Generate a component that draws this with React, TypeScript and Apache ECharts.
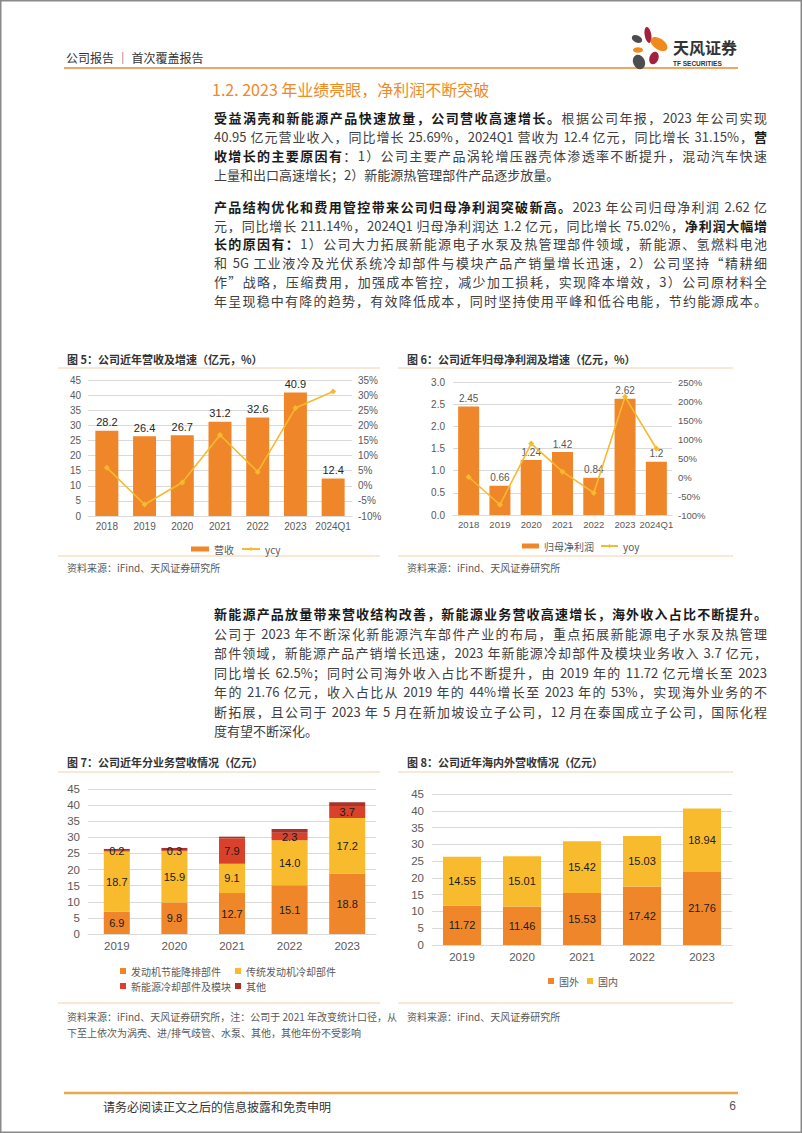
import React, { useEffect, useRef } from 'react';
import * as echarts from 'echarts';

// ---------- data ----------
const revYears = ['2018', '2019', '2020', '2021', '2022', '2023', '2024Q1'];
const revenue = [28.2, 26.4, 26.7, 31.2, 32.6, 40.9, 12.4];
const revenueYoy = [6.0, -6.2, 1.1, 16.8, 4.6, 25.7, 31.2];
const netProfit = [2.45, 0.66, 1.24, 1.42, 0.84, 2.62, 1.2];
const profitYoy = [0, -73, 88, 14, -42, 211, 75];

const segYears = ['2019', '2020', '2021', '2022', '2023'];
const engineParts = [6.9, 9.8, 12.7, 15.1, 18.8];
const coolingParts = [18.7, 15.9, 9.1, 14.0, 17.2];
const newEnergyParts = [0.2, 0.3, 7.9, 2.3, 3.7];
const otherParts = [0.6, 0.7, 0.5, 1.2, 1.2];

const overseas = [11.72, 11.46, 15.53, 17.42, 21.76];
const domestic = [14.55, 15.01, 15.42, 15.03, 18.94];

const revAxis = { min: 0, max: 45, interval: 5 };
const revYoyAxis = { min: -10, max: 35, interval: 5 };
const profitAxis = { min: 0, max: 3, interval: 0.5 };
const profitYoyAxis = { min: -100, max: 250, interval: 50 };

// ---------- style ----------
const ORANGE = '#F0862A';
const YELLOW = '#F8BB2E';
const LINEY = '#F5BA30';
const RED = '#D9412A';
const DARKRED = '#A9322A';
const GRID = '#D9D9D9';
const LABEL = '#595959';
const FONT = "'Liberation Sans', 'Noto Sans CJK SC', sans-serif";
const CJK = "'Noto Sans CJK SC', 'Liberation Sans', sans-serif";

type Seg = [string, boolean?];
const para1: Seg[][] = [
  [['受益涡壳和新能源产品快速放量，公司营收高速增长。', true], ['根据公司年报，2023 年公司实现']],
  [['40.95 亿元营业收入，同比增长 25.69%，2024Q1 营收为 12.4 亿元，同比增长 31.15%，'], ['营', true]],
  [['收增长的主要原因有', true], ['：1）公司主要产品涡轮增压器壳体渗透率不断提升，混动汽车快速']],
  [['上量和出口高速增长；2）新能源热管理部件产品逐步放量。']],
];
const para2: Seg[][] = [
  [['产品结构优化和费用管控带来公司归母净利润突破新高。', true], ['2023 年公司归母净利润 2.62 亿']],
  [['元，同比增长 211.14%，2024Q1 归母净利润达 1.2 亿元，同比增长 75.02%，'], ['净利润大幅增', true]],
  [['长的原因有：', true], ['1）公司大力拓展新能源电子水泵及热管理部件领域，新能源、氢燃料电池']],
  [['和 5G 工业液冷及光伏系统冷却部件与模块产品产销量增长迅速，2）公司坚持“精耕细']],
  [['作”战略，压缩费用，加强成本管控，减少加工损耗，实现降本增效，3）公司原材料全']],
  [['年呈现稳中有降的趋势，有效降低成本，同时坚持使用平峰和低谷电能，节约能源成本。']],
];
const para3: Seg[][] = [
  [['新能源产品放量带来营收结构改善，新能源业务营收高速增长，海外收入占比不断提升。', true]],
  [['公司于 2023 年不断深化新能源汽车部件产业的布局，重点拓展新能源电子水泵及热管理']],
  [['部件领域，新能源产品产销增长迅速，2023 年新能源冷却部件及模块业务收入 3.7 亿元，']],
  [['同比增长 62.5%；同时公司海外收入占比不断提升，由 2019 年的 11.72 亿元增长至 2023']],
  [['年的 21.76 亿元，收入占比从 2019 年的 44%增长至 2023 年的 53%，实现海外业务的不']],
  [['断拓展，且公司于 2023 年 5 月在新加坡设立子公司，12 月在泰国成立子公司，国际化程']],
  [['度有望不断深化。']],
];

const TextLine: React.FC<{ segs: Seg[]; y: number; justify: boolean }> = ({ segs, y, justify }) => (
  <div
    style={{
      position: 'absolute',
      left: 214,
      top: y - 10,
      width: 553,
      height: 20,
      lineHeight: '20px',
      fontSize: 13,
      whiteSpace: 'nowrap',
      textAlign: justify ? 'justify' : 'left',
      textAlignLast: justify ? 'justify' : 'left',
      fontFamily: CJK,
      color: '#404040',
    } as React.CSSProperties}
  >
    {segs.map((s, i) => (
      <span key={i} style={{ fontWeight: s[1] ? 700 : 400, color: s[1] ? '#1a1a1a' : '#404040' }}>
        {s[0]}
      </span>
    ))}
  </div>
);

function txt(text: string, x: number, y: number, size: number, color: string, weight: any = 'normal', align = 'left', family = CJK) {
  return {
    type: 'text',
    x,
    y,
    silent: true,
    style: {
      text,
      fill: color,
      fontSize: size,
      fontWeight: weight,
      fontFamily: family,
      textAlign: align,
      align,
      textVerticalAlign: 'middle',
      verticalAlign: 'middle',
    },
  };
}
function ln(x1: number, y1: number, x2: number, y2: number, color: string, w: number) {
  return { type: 'line', silent: true, shape: { x1, y1, x2, y2 }, style: { stroke: color, lineWidth: w } };
}
function petal(cx: number, cy: number, rx: number, ry: number, rotDeg: number, fill: string) {
  return { type: 'ellipse', x: cx, y: cy, rotation: (rotDeg * Math.PI) / 180, shape: { cx: 0, cy: 0, rx, ry }, style: { fill } };
}

const axisCat = (gridIndex: number, data: string[], size: number, margin: number, extra: any = {}) => ({
  type: 'category',
  gridIndex,
  data,
  axisTick: { show: false },
  axisLine: { lineStyle: { color: GRID } },
  axisLabel: { color: LABEL, fontSize: size, margin, interval: 0, fontFamily: FONT },
  ...extra,
});
const axisVal = (gridIndex: number, r: any, size: number, fmt: any, split: boolean, margin = 8) => ({
  type: 'value',
  gridIndex,
  min: r.min,
  max: r.max,
  interval: r.interval,
  axisLine: { show: false },
  axisTick: { show: false },
  axisLabel: { color: LABEL, fontSize: size, formatter: fmt, margin, fontFamily: FONT },
  splitLine: { show: split, lineStyle: { color: GRID } },
});

const narrow = (arr: number[]) => arr.map((v, i) => (i < 3 ? v : '-'));
const wide = (arr: number[]) => arr.map((v, i) => (i >= 3 ? v : '-'));

export default function App() {
  const ref = useRef<HTMLDivElement>(null);
  useEffect(() => {
    if (!ref.current) return;
    const chart = echarts.init(ref.current, undefined, { renderer: 'svg', width: 802, height: 1133 });

    const segDefs: [string, number[], string, boolean][] = [
      ['发动机节能降排部件', engineParts, ORANGE, true],
      ['传统发动机冷却部件', coolingParts, YELLOW, true],
      ['新能源冷却部件及模块', newEnergyParts, RED, true],
      ['其他', otherParts, DARKRED, false],
    ];
    const segLabel = (show: boolean) => ({
      show,
      position: 'inside',
      color: '#1a1a1a',
      fontSize: 11,
      fontFamily: FONT,
      formatter: (p: any) => Number(p.value).toFixed(1),
    });
    const segSeries: any[] = [];
    segDefs.forEach(([name, arr, color, show]) => {
      segSeries.push({
        type: 'bar', name, xAxisIndex: 2, yAxisIndex: 4, stack: 'segA', barWidth: 26,
        data: narrow(arr), itemStyle: { color }, label: segLabel(show),
      });
    });
    segDefs.forEach(([name, arr, color, show]) => {
      segSeries.push({
        type: 'bar', name, xAxisIndex: 3, yAxisIndex: 4, stack: 'segB', barWidth: 36,
        data: wide(arr), itemStyle: { color }, label: segLabel(show),
      });
    });

    const legendText = { color: LABEL, fontSize: 10, fontFamily: CJK };

    const option: any = {
      animation: false,
      textStyle: { fontFamily: FONT },
      grid: [
        { left: 88, top: 380, width: 264, height: 136 },
        { left: 453, top: 382, width: 219, height: 133 },
        { left: 88, top: 789, width: 288, height: 145 },
        { left: 432, top: 794, width: 300, height: 151 },
      ],
      xAxis: [
        axisCat(0, revYears, 10, 5),
        axisCat(1, revYears, 9.5, 5),
        axisCat(2, segYears, 11.5, 6),
        axisCat(2, segYears, 11.5, 6, { show: false }),
        axisCat(3, segYears, 11.5, 6),
      ],
      yAxis: [
        axisVal(0, revAxis, 10, '{value}', true, 7),
        axisVal(0, revYoyAxis, 10, '{value}%', false, 6),
        axisVal(1, profitAxis, 10, (v: number) => v.toFixed(1), true, 8),
        axisVal(1, profitYoyAxis, 9.5, '{value}%', false, 6),
        axisVal(2, revAxis, 11.5, '{value}', true, 8),
        axisVal(3, revAxis, 11.5, '{value}', true, 8),
      ],
      legend: [
        {
          data: [{ name: '营收', icon: 'rect' }, { name: 'ycy' }],
          left: 186, top: 539, itemWidth: 18, itemHeight: 5, itemGap: 7, textStyle: legendText,
        },
        {
          data: [{ name: '归母净利润', icon: 'rect' }, { name: 'yoy' }],
          left: 517, top: 536, itemWidth: 17, itemHeight: 5, itemGap: 6, textStyle: legendText,
        },
        {
          data: ['发动机节能降排部件', '新能源冷却部件及模块'], orient: 'vertical',
          left: 115, top: 961, itemWidth: 6, itemHeight: 6, itemGap: 5, icon: 'rect', textStyle: legendText,
        },
        {
          data: ['传统发动机冷却部件', '其他'], orient: 'vertical',
          left: 230, top: 961, itemWidth: 6, itemHeight: 6, itemGap: 5, icon: 'rect', textStyle: legendText,
        },
        {
          data: ['国外', '国内'], left: 543, top: 971, itemWidth: 6, itemHeight: 6, itemGap: 8, icon: 'rect', textStyle: legendText,
        },
      ],
      series: [
        {
          type: 'bar', name: '营收', xAxisIndex: 0, yAxisIndex: 0, data: revenue, barWidth: 23,
          itemStyle: { color: ORANGE },
          label: { show: true, position: 'top', distance: 3, color: '#262626', fontSize: 11, fontFamily: FONT },
        },
        {
          type: 'line', name: 'ycy', xAxisIndex: 0, yAxisIndex: 1, data: revenueYoy, z: 5,
          symbol: 'diamond', symbolSize: 6, color: LINEY,
          lineStyle: { color: LINEY, width: 1.6 }, itemStyle: { color: LINEY },
        },
        {
          type: 'bar', name: '归母净利润', xAxisIndex: 1, yAxisIndex: 2, data: netProfit, barWidth: 21,
          itemStyle: { color: ORANGE },
          label: { show: true, position: 'top', distance: 3, color: '#595959', fontSize: 10, fontFamily: FONT },
        },
        {
          type: 'line', name: 'yoy', xAxisIndex: 1, yAxisIndex: 3, data: profitYoy, z: 5,
          symbol: 'diamond', symbolSize: 6, color: LINEY,
          lineStyle: { color: LINEY, width: 1.6 }, itemStyle: { color: LINEY },
        },
        ...segSeries,
        {
          type: 'bar', name: '国外', xAxisIndex: 4, yAxisIndex: 5, stack: 'geo', data: overseas, barWidth: 38,
          itemStyle: { color: ORANGE },
          label: { show: true, position: 'inside', color: '#1a1a1a', fontSize: 11, fontFamily: FONT, formatter: (p: any) => Number(p.value).toFixed(2) },
        },
        {
          type: 'bar', name: '国内', xAxisIndex: 4, yAxisIndex: 5, stack: 'geo', data: domestic, barWidth: 38,
          itemStyle: { color: YELLOW },
          label: { show: true, position: 'inside', color: '#1a1a1a', fontSize: 11, fontFamily: FONT, formatter: (p: any) => Number(p.value).toFixed(2) },
        },
      ],
      graphic: {
        elements: [
          // page frame
          { type: 'rect', silent: true, shape: { x: 0.75, y: 0.75, width: 800.5, height: 1131.5 }, style: { fill: 'none', stroke: '#8a8a8a', lineWidth: 1.5 } },
          // header
          txt('公司报告 ｜ 首次覆盖报告', 66, 57, 12, '#333333'),
          ln(64, 68, 738, 68, '#E8892B', 1.5),
          petal(637, 39, 5.5, 3.5, -25, '#4D4D4D'),
          petal(648, 35, 3.3, 8, 10, '#A3203F'),
          petal(659, 44, 9.5, 5.5, -35, '#F08A1C'),
          petal(638, 50, 5, 2.8, 0, '#F08A1C'),
          petal(654, 58, 4.5, 6.5, -20, '#A3203F'),
          petal(639, 62, 5.8, 7.5, 25, '#4D4D4D'),
          txt('天风证券', 673, 47, 16, '#333333', 'bold'),
          txt('TF SECURITIES', 673, 63.5, 6.5, '#333333', 'bold', 'left', FONT),
          // section title
          txt('1.2. 2023 年业绩亮眼，净利润不断突破', 212, 89, 16, '#EF8A28'),
          // figure titles
          txt('图 5：公司近年营收及增速（亿元，%）', 67, 359, 11, '#333333', 'bold'),
          ln(58, 368, 380, 368, '#F6CFA8', 1),
          txt('图 6：公司近年归母净利润及增速（亿元，%）', 407, 359, 11, '#333333', 'bold'),
          ln(398, 368, 733, 368, '#F6CFA8', 1),
          ln(58, 556, 380, 556, '#F6CFA8', 1),
          ln(398, 556, 733, 556, '#F6CFA8', 1),
          txt('资料来源：iFind、天风证券研究所', 67, 567, 10, LABEL),
          txt('资料来源：iFind、天风证券研究所', 407, 567, 10, LABEL),
          txt('图 7：公司近年分业务营收情况（亿元）', 67, 762, 11, '#333333', 'bold'),
          ln(58, 772, 380, 772, '#F6CFA8', 1),
          txt('图 8：公司近年海内外营收情况（亿元）', 407, 762, 11, '#333333', 'bold'),
          ln(398, 772, 733, 772, '#F6CFA8', 1),
          ln(58, 1003, 380, 1003, '#F6CFA8', 1),
          ln(398, 1003, 733, 1003, '#F6CFA8', 1),
          txt('资料来源：iFind、天风证券研究所，注：公司于 2021 年改变统计口径，从', 67, 1016, 10, LABEL),
          txt('下至上依次为涡壳、进/排气歧管、水泵、其他，其他年份不受影响', 67, 1032, 10, LABEL),
          txt('资料来源：iFind、天风证券研究所', 407, 1016, 10, LABEL),
          // footer
          ln(64, 1093, 738, 1093, '#E9A84E', 2.5),
          txt('请务必阅读正文之后的信息披露和免责申明', 103, 1106, 12, '#333333'),
          txt('6', 736, 1106, 12, '#555555', 'normal', 'right', FONT),
        ],
      },
    };
    chart.setOption(option);
    return () => chart.dispose();
  }, []);

  const paraLines: JSX.Element[] = [];
  para1.forEach((l, i) => paraLines.push(<TextLine key={'a' + i} segs={l} y={118 + i * 19} justify={i < para1.length - 1} />));
  para2.forEach((l, i) => paraLines.push(<TextLine key={'b' + i} segs={l} y={207 + i * 18.7} justify={true} />));
  para3.forEach((l, i) => paraLines.push(<TextLine key={'c' + i} segs={l} y={614 + i * 19.5} justify={i < para3.length - 1} />));

  return (
    <div style={{ position: 'absolute', left: 0, top: 0, width: 802, height: 1133, background: '#fff', overflow: 'hidden' }}>
      <div ref={ref} style={{ position: 'absolute', left: 0, top: 0, width: 802, height: 1133 }} />
      {paraLines}
    </div>
  );
}
